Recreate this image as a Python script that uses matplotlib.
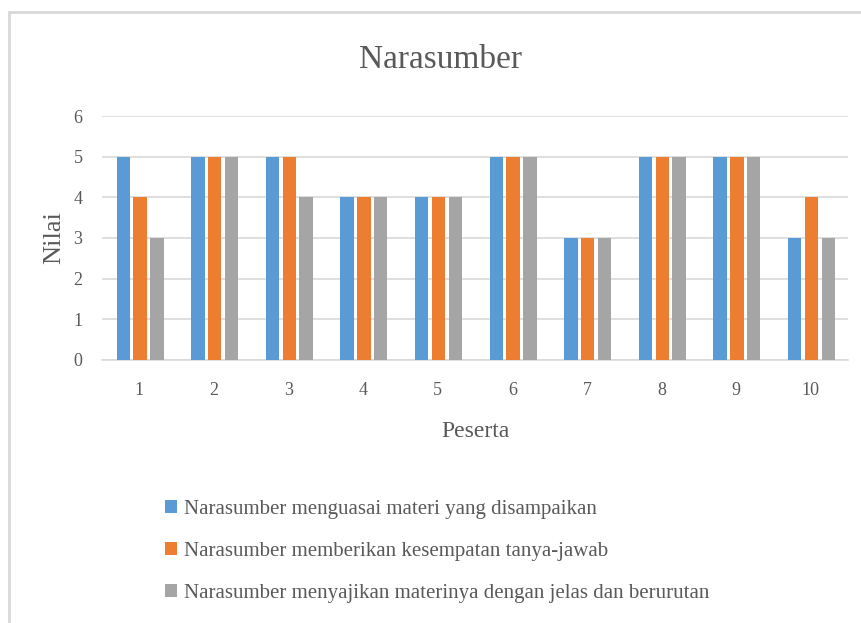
import numpy as np
import matplotlib
matplotlib.use("Agg")
import matplotlib.pyplot as plt
from matplotlib.patches import Rectangle

peserta = ["1", "2", "3", "4", "5", "6", "7", "8", "9", "10"]
menguasai = [5, 5, 5, 4, 4, 5, 3, 5, 5, 3]
tanya_jawab = [4, 5, 5, 4, 4, 5, 3, 5, 5, 4]
jelas = [3, 5, 4, 4, 4, 5, 3, 5, 5, 3]
series_names = [
    "Narasumber menguasai materi yang disampaikan",
    "Narasumber memberikan kesempatan tanya-jawab",
    "Narasumber menyajikan materinya dengan jelas dan berurutan",
]
colors = ["#5B9BD5", "#ED7D31", "#A5A5A5"]
text_col = "#595959"

plt.rcParams['font.family'] = ['Liberation Serif', 'DejaVu Serif']

fig = plt.figure(figsize=(8.61, 6.23), dpi=100)
# outer chart border (Excel style)
fig.patches.append(Rectangle((9 / 861, -0.1), 1.0, 1 - 12 / 623 + 0.1,
                             transform=fig.transFigure, fill=False,
                             edgecolor="#D9D9D9", linewidth=2))

ax = fig.add_axes([102 / 861, 1 - 360 / 623, (848 - 102) / 861, (360 - 116) / 623])

x = np.arange(1, len(peserta) + 1)
w = 0.18
off = 0.225
for i, vals in enumerate([menguasai, tanya_jawab, jelas]):
    ax.bar(x + (i - 1) * off + 0.01, vals, width=w, color=colors[i],
           label=series_names[i], zorder=3)

ax.set_xlim(0.5, 10.5)
ax.set_ylim(0, 6)
ax.set_yticks(range(0, 7))
ax.set_xticks(x)
ax.set_xticklabels(peserta)
ax.yaxis.grid(True, color="#D9D9D9", linewidth=1.2, zorder=0)
for s in ["top", "right", "left"]:
    ax.spines[s].set_visible(False)
ax.spines["bottom"].set_color("#D9D9D9")
ax.spines["bottom"].set_linewidth(1.2)
ax.tick_params(length=0, labelsize=13, colors=text_col)
ax.tick_params(axis="x", pad=16)
ax.tick_params(axis="y", pad=14)

fig.text(441 / 861, 1 - 60 / 623, "Narasumber", fontsize=24, color=text_col,
         ha="center", va="center")
ax.set_xlabel("Peserta", fontsize=17, color=text_col, labelpad=16)
ax.set_ylabel("Nilai", fontsize=19, color=text_col, labelpad=6)

fig.legend(loc="upper left", bbox_to_anchor=(146 / 861, 1 - 481 / 623),
           frameon=False, fontsize=15, labelcolor=text_col,
           handlelength=0.6, handleheight=0.6, handletextpad=0.3,
           labelspacing=1.1)

fig.savefig("out.png", dpi=100)
